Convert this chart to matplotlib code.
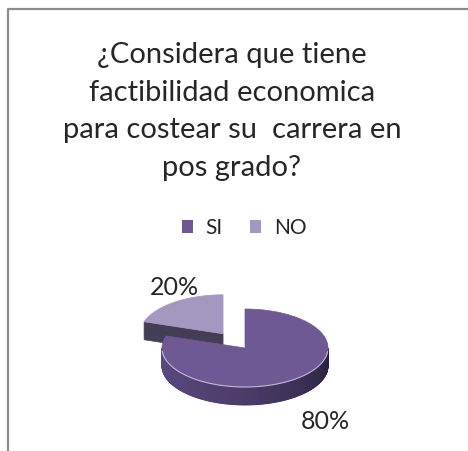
import numpy as np
import matplotlib
matplotlib.use("Agg")
import matplotlib.pyplot as plt
from matplotlib.patches import Polygon, Patch

# ---- data ----
categories = ["SI", "NO"]
values = [80, 20]
pct_labels = ["80%", "20%"]
title = "¿Considera que tiene\nfactibilidad economica\npara costear su  carrera en\npos grado?"

# ---- style ----
top_colors = ["#6E5995", "#A498C0"]
side_colors = ["#5A4880", "#433E55"]
explode = [0.0, 0.45]
lab_r = [1.64, 1.0]
lab_dy = [4, -15]
plt.rcParams["font.family"] = ["Lato", "DejaVu Sans"]

W, H = 468, 451
fig = plt.figure(figsize=(W / 100, H / 100), dpi=100)
ax = fig.add_axes([0, 0, 1, 1])
ax.set_xlim(0, W)
ax.set_ylim(H, 0)
ax.axis("off")

# borde del gráfico (recortado)
ax.plot([7.5, 7.5, W], [H, 9, 9], color="#8C8C8C", lw=1.6, solid_capstyle="butt")

# geometría del pie 3D (en pixeles)
cx, cy, rx, ry, depth = 245, 348, 83, 39, 18


def shade(c, f):
    rgb = np.array(matplotlib.colors.to_rgb(c))
    return tuple(np.clip(rgb * f, 0, 1))


def pt(th, off, r=1.0, dz=0.0):
    t = np.radians(th)
    return (cx + off[0] + rx * r * np.cos(t), cy + off[1] - ry * r * np.sin(t) + dz)


total = float(sum(values))
slices = []
start = 90.0
for i, v in enumerate(values):
    th1 = start
    th2 = start - 360.0 * v / total
    mid = (th1 + th2) / 2
    m = np.radians(mid)
    off = (explode[i] * rx * np.cos(m), -explode[i] * ry * np.sin(m))
    slices.append((i, th1, th2, mid, off))
    start = th2

# dibujar de atrás hacia adelante
order = sorted(slices, key=lambda s: -np.sin(np.radians(s[3])) if s[1] - s[2] < 180 else 10)
for i, th1, th2, mid, off in order:
    vtx = (cx + off[0], cy + off[1])
    # caras radiales
    for th, sgn in ((th1, 90), (th2, -90)):
        if np.sin(np.radians(th + sgn)) < -0.05:
            o = pt(th, off)
            face = [vtx, o, (o[0], o[1] + depth), (vtx[0], vtx[1] + depth)]
            ax.add_patch(Polygon(face, closed=True, fc=side_colors[i], ec=side_colors[i], lw=0.5))
    # pared exterior (solo la mitad de adelante)
    angs = np.linspace(th2, th1, 400)
    for a0, a1 in zip(angs[:-1], angs[1:]):
        am = ((a0 + a1) / 2) % 360
        if am < 180:
            continue
        f = 1.0 - 0.55 * ((am - 180) / 180) ** 1.6
        c = shade(side_colors[i], f)
        p0, p1 = pt(a0, off), pt(a1, off)
        quad = [p0, p1, (p1[0], p1[1] + depth), (p0[0], p0[1] + depth)]
        ax.add_patch(Polygon(quad, closed=True, fc=c, ec=c, lw=0.6))
    # cara superior
    arc = [pt(a, off) for a in np.linspace(th1, th2, 200)]
    ax.add_patch(Polygon([vtx] + arc, closed=True, fc=top_colors[i], ec=top_colors[i], lw=0.5))
    # brillo en el borde frontal
    front = [a for a in np.linspace(th2, th1, 200) if (a % 360) > 185 and (a % 360) < 355]
    if front:
        xy = np.array([pt(a, off) for a in front])
        ax.plot(xy[:, 0], xy[:, 1], color="#D8D0E6", lw=0.8, alpha=0.8)

# etiquetas de porcentaje
for i, th1, th2, mid, off in slices:
    x, y = pt(mid, off, r=lab_r[i])
    if np.sin(np.radians(mid)) < 0:
        y += depth
    ax.text(x, y + lab_dy[i], pct_labels[i], ha="center", va="center", fontsize=18, color="#262626")

# título
ax.text(232, 42, title, ha="center", va="top", fontsize=21, color="#262626", linespacing=1.55)

# leyenda
handles = [Patch(fc=top_colors[i], ec="none") for i in range(len(categories))]
leg = ax.legend(handles, categories, ncol=2, frameon=False, loc="center",
                bbox_to_anchor=(244 / W, 1 - 228 / H), fontsize=15,
                handlelength=0.55, handleheight=0.55, handletextpad=0.6, columnspacing=1.3)
for t in leg.get_texts():
    t.set_color("#262626")

fig.savefig("out.png", dpi=100)
